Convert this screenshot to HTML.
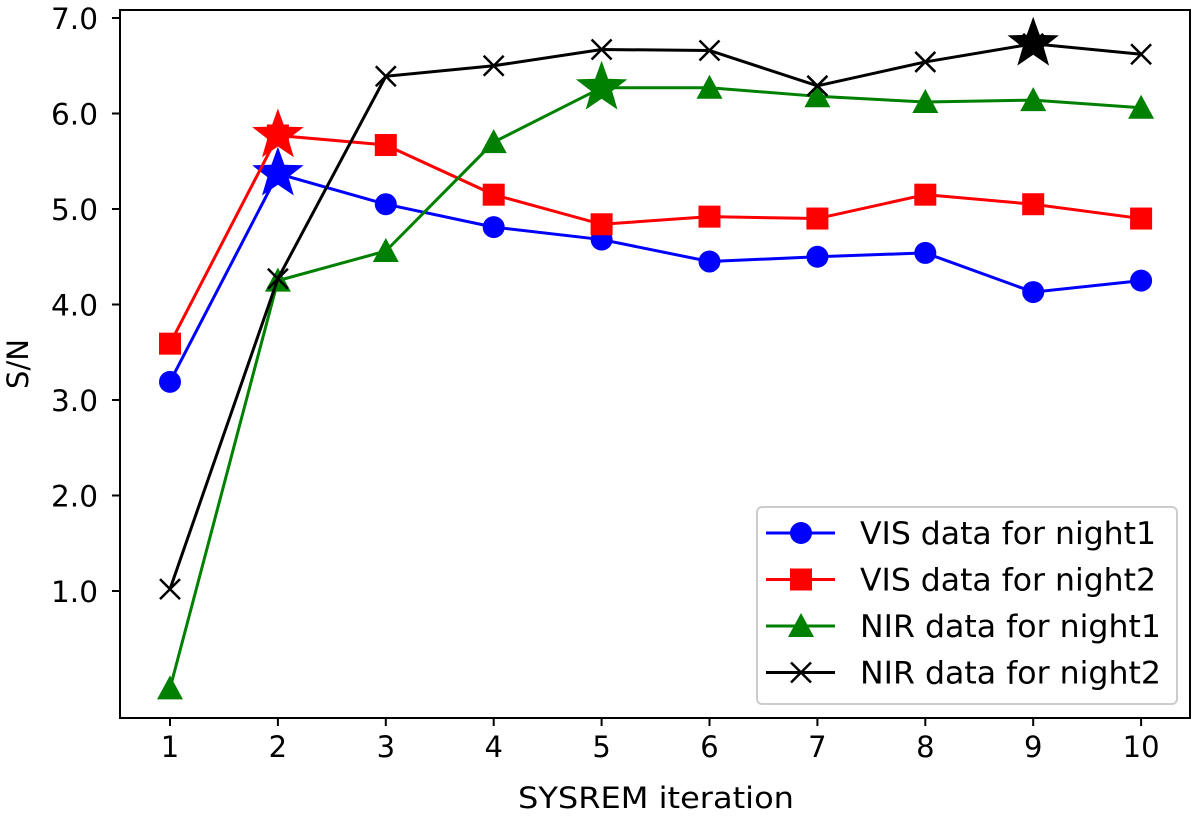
<!DOCTYPE html>
<html><head><meta charset="utf-8"><style>
body{margin:0;background:#fff}
svg text{font-family:"DejaVu Sans","Liberation Sans",sans-serif;fill:#000}
</style></head><body>
<svg id="chart" width="1200" height="817" xmlns="http://www.w3.org/2000/svg"></svg>
<script>
const iterations=[1,2,3,4,5,6,7,8,9,10];
const visNight1=[3.19,5.37,5.05,4.81,4.68,4.45,4.50,4.54,4.13,4.25];
const visNight2=[3.59,5.77,5.67,5.15,4.84,4.92,4.90,5.15,5.05,4.90];
const nirNight1=[-0.02,4.25,4.56,5.70,6.27,6.27,6.18,6.12,6.14,6.06];
const nirNight2=[1.02,4.27,6.39,6.50,6.67,6.66,6.29,6.54,6.73,6.62];
const bestIter=[2,2,5,9];
const yTicks=[1,2,3,4,5,6,7];
const yTickLabels=["1.0","2.0","3.0","4.0","5.0","6.0","7.0"];
const seriesNames=["VIS data for night1","VIS data for night2","NIR data for night1","NIR data for night2"];

const NS="http://www.w3.org/2000/svg";
const svg=document.getElementById('chart');
const L=120,R=1190,T=10,B=718;
const xs=v=>170+(v-1)*107.9;
const ys=v=>686.5-v*95.5;
function mk(tag,attrs,parent){const e=document.createElementNS(NS,tag);for(const k in attrs)e.setAttribute(k,attrs[k]);(parent||svg).appendChild(e);return e;}

const frame=mk('rect',{x:L,y:T,width:R-L,height:B-T,fill:'none',stroke:'#000','stroke-width':2});



iterations.forEach(v=>{
  const t=mk('line',{x1:xs(v),x2:xs(v),y1:B,y2:B+8,stroke:'#000','stroke-width':2});
  
  
  const l=mk('text',{x:xs(v),y:B+39,'text-anchor':'middle','font-size':29});
  l.textContent=v;
  
  
});
yTicks.forEach((v,i)=>{
  const t=mk('line',{x1:L-8,x2:L,y1:ys(v),y2:ys(v),stroke:'#000','stroke-width':2});
  
  
  const l=mk('text',{x:L-22,y:ys(v)+11,'text-anchor':'end','font-size':29,textLength:47,lengthAdjust:'spacingAndGlyphs'});
  l.textContent=yTickLabels[i];
  
  
});
const xt=mk('text',{x:656,y:808,'text-anchor':'middle','font-size':29,textLength:276,lengthAdjust:'spacingAndGlyphs'});
xt.textContent='SYSREM iteration';


const yt=mk('text',{x:0,y:0,'text-anchor':'middle','font-size':29,transform:'translate(28,364) rotate(-90)'});
yt.textContent='S/N';



function marker(type,x,y,color,g){
  let e;
  if(type==='circle')e=mk('circle',{cx:x,cy:y,r:11,fill:color},g);
  else if(type==='square')e=mk('rect',{x:x-11,y:y-11,width:22,height:22,fill:color},g);
  else if(type==='tri')e=mk('polygon',{points:`${x},${y-13} ${x+13},${y+11} ${x-13},${y+11}`,fill:color},g);
  else e=mk('path',{d:`M${x-10},${y-10}L${x+10},${y+10}M${x+10},${y-10}L${x-10},${y+10}`,stroke:color,'stroke-width':2.5},g);
  return e;
}
function star(x,y,color,g){
  let p=[];for(let i=0;i<10;i++){const r=i%2?11:27;const a=-Math.PI/2+i*Math.PI/5;p.push((x+r*Math.cos(a)).toFixed(1)+','+(y+r*Math.sin(a)).toFixed(1));}
  return mk('polygon',{points:p.join(' '),fill:color},g);
}
const series=[[visNight1,'blue','circle'],[visNight2,'red','square'],[nirNight1,'green','tri'],[nirNight2,'black','x']];
series.forEach((s,si)=>{
  const g=mk('g',{});
  
  
  const pl=mk('polyline',{points:s[0].map((v,i)=>xs(iterations[i])+','+ys(v)).join(' '),fill:'none',stroke:s[1],'stroke-width':3},g);
  
  
  s[0].forEach((v,i)=>{
    const m=marker(s[2],xs(iterations[i]),ys(v),s[1],g);
    
    
  });
  const bi=bestIter[si];
  const st=star(xs(bi),ys(s[0][bi-1]),s[1],g);
  
  
});

const lg=mk('g',{});


mk('rect',{x:757,y:507,width:420,height:197,rx:5,fill:'#fff',stroke:'#ccc','stroke-width':2},lg);
series.forEach((s,si)=>{
  const y=533+si*46.5;
  const e=mk('g',{},lg);
  
  
  mk('line',{x1:766,x2:835,y1:y,y2:y,stroke:s[1],'stroke-width':3},e);
  marker(s[2],801,y,s[1],e);
  const t=mk('text',{x:860,y:y+11,'font-size':31,textLength:si<2?296:301,lengthAdjust:'spacingAndGlyphs'},e);
  t.textContent=seriesNames[si];
});
</script>
</body></html>
